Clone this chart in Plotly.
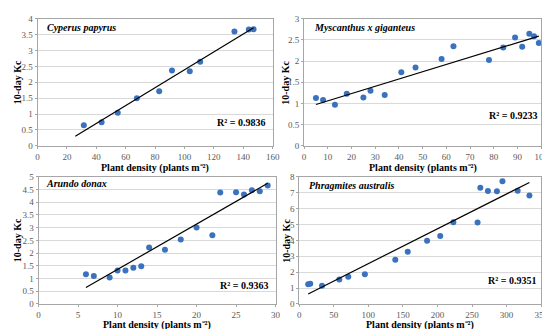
import plotly.graph_objects as go
import numpy as np

# ---------- data ----------
papyrus_x = [31.5, 43.6, 54.6, 67.6, 82.8, 91.5, 103.6, 110.7, 134, 143.8, 147]
papyrus_y = [0.65, 0.74, 1.04, 1.50, 1.72, 2.37, 2.35, 2.65, 3.60, 3.66, 3.67]
papyrus_fit = (0.0282, -0.425)
papyrus_fit_x = [25.7, 147]

myscanthus_x = [5, 8, 13, 18, 25, 28, 34, 41, 47, 58, 63, 78, 84, 89, 92, 95, 97, 99]
myscanthus_y = [1.13, 1.08, 0.97, 1.23, 1.14, 1.30, 1.20, 1.74, 1.85, 2.05, 2.35,
                2.03, 2.32, 2.56, 2.34, 2.65, 2.59, 2.43]
myscanthus_fit = (0.0172, 0.89)
myscanthus_fit_x = [5, 99]

arundo_x = [6, 7, 9, 10, 11, 12, 13, 14, 16, 18, 20, 22, 23, 25, 26, 27, 28, 29]
arundo_y = [1.17, 1.10, 1.04, 1.31, 1.31, 1.42, 1.48, 2.22, 2.13, 2.53, 3.01, 2.70,
            4.38, 4.39, 4.31, 4.47, 4.43, 4.66]
arundo_fit = (0.1786, -0.43)
arundo_fit_x = [6, 29]

phrag_x = [13, 16, 33, 58, 71, 95, 139, 157, 185, 204, 223, 258, 262, 273, 286, 294, 316, 333]
phrag_y = [1.24, 1.26, 1.14, 1.54, 1.71, 1.87, 2.78, 3.29, 3.98, 4.28, 5.14, 5.12,
           7.31, 7.11, 7.09, 7.72, 7.13, 6.82]
phrag_fit = (0.02194, 0.34)
phrag_fit_x = [13, 333]

species = ["Cyperus papyrus", "Myscanthus x giganteus", "Arundo donax", "Phragmites australis"]
r2_labels = ["R² = 0.9836", "R² = 0.9233", "R² = 0.9363", "R² = 0.9351"]
x_ranges = [(0, 160, 20), (0, 100, 10), (0, 30, 5), (0, 350, 50)]
y_ranges = [(0, 4, 0.5), (0, 3, 0.5), (0, 5, 0.5), (0, 8, 1)]
x_title = "Plant density (plants m⁻²)"
y_title = "10-day Kc"

panels = [
    (papyrus_x, papyrus_y, papyrus_fit, papyrus_fit_x),
    (myscanthus_x, myscanthus_y, myscanthus_fit, myscanthus_fit_x),
    (arundo_x, arundo_y, arundo_fit, arundo_fit_x),
    (phrag_x, phrag_y, phrag_fit, phrag_fit_x),
]

# ---------- layout (pixel based) ----------
W, H = 550, 329
boxes = [(28, 267, 6, 137), (299, 540, 6, 137), (29, 270, 169, 300), (294, 540, 169, 300)]
title_pos = [(36, 15), (307, 15), (35, 176), (302, 178)]
r2_pos = [(261, 113), (538, 106), (264, 281), (537, 276)]
xtitle_bottom = [167, 167, 328.5, 328.5]
ytitle_x = [7, 280, 8, 281]

FONT = "Liberation Serif, Times New Roman, serif"
marker_color = "#3a72be"
axis_col = "#a6a6a6"
grid_col = "#d9d9d9"
tick_font = dict(family=FONT, size=9, color="#595959")

fig = go.Figure()
annotations = []
for i, (xs, ys, fit, fx) in enumerate(panels):
    n = "" if i == 0 else str(i + 1)
    xa, ya = "x" + n, "y" + n
    fig.add_trace(go.Scatter(x=xs, y=ys, mode="markers", xaxis=xa, yaxis=ya,
                             marker=dict(color=marker_color, size=6), showlegend=False))
    fxa = np.array(fx, dtype=float)
    fig.add_trace(go.Scatter(x=fxa, y=fit[0] * fxa + fit[1], mode="lines", xaxis=xa, yaxis=ya,
                             line=dict(color="black", width=1.2), showlegend=False))
    x0, x1, yt, yb = boxes[i]
    xr, yr = x_ranges[i], y_ranges[i]
    fig.layout["xaxis" + n] = dict(
        domain=[x0 / W, x1 / W], range=[xr[0], xr[1]], dtick=xr[2], anchor=ya,
        showgrid=False, zeroline=False, showline=True, linecolor=axis_col, linewidth=1,
        mirror=True, ticks="outside", ticklen=2, tickcolor=axis_col, tickfont=tick_font)
    fig.layout["yaxis" + n] = dict(
        domain=[1 - yb / H, 1 - yt / H], range=[yr[0], yr[1]], dtick=yr[2], anchor=xa,
        showgrid=True, gridcolor=grid_col, gridwidth=1, zeroline=False, showline=True,
        linecolor=axis_col, linewidth=1, mirror=True, ticks="outside", ticklen=2,
        tickcolor=axis_col, tickfont=tick_font)
    tx, ty = title_pos[i]
    annotations.append(dict(text="<b><i>" + species[i] + "</i></b>", x=tx / W, y=1 - ty / H,
                            xref="paper", yref="paper", xanchor="left", yanchor="middle",
                            showarrow=False, font=dict(family=FONT, size=10, color="black")))
    rx, ry = r2_pos[i]
    annotations.append(dict(text="<b>" + r2_labels[i] + "</b>", x=rx / W, y=1 - ry / H,
                            xref="paper", yref="paper", xanchor="right", yanchor="middle",
                            showarrow=False, font=dict(family=FONT, size=10, color="black")))
    annotations.append(dict(text="<b>" + x_title + "</b>", x=(x0 + x1) / 2 / W,
                            y=1 - xtitle_bottom[i] / H, xref="paper", yref="paper",
                            xanchor="center", yanchor="bottom", showarrow=False,
                            borderpad=0,
                            font=dict(family=FONT, size=10, color="black")))
    annotations.append(dict(text="<b>" + y_title + "</b>", x=ytitle_x[i] / W,
                            y=1 - (yt + yb) / 2 / H, xref="paper", yref="paper",
                            xanchor="center", yanchor="middle", textangle=-90, showarrow=False,
                            font=dict(family=FONT, size=10, color="black")))

fig.update_layout(width=W, height=H, margin=dict(l=0, r=0, t=0, b=0),
                  plot_bgcolor="white", paper_bgcolor="white", annotations=annotations)
fig.write_html("out.html")
